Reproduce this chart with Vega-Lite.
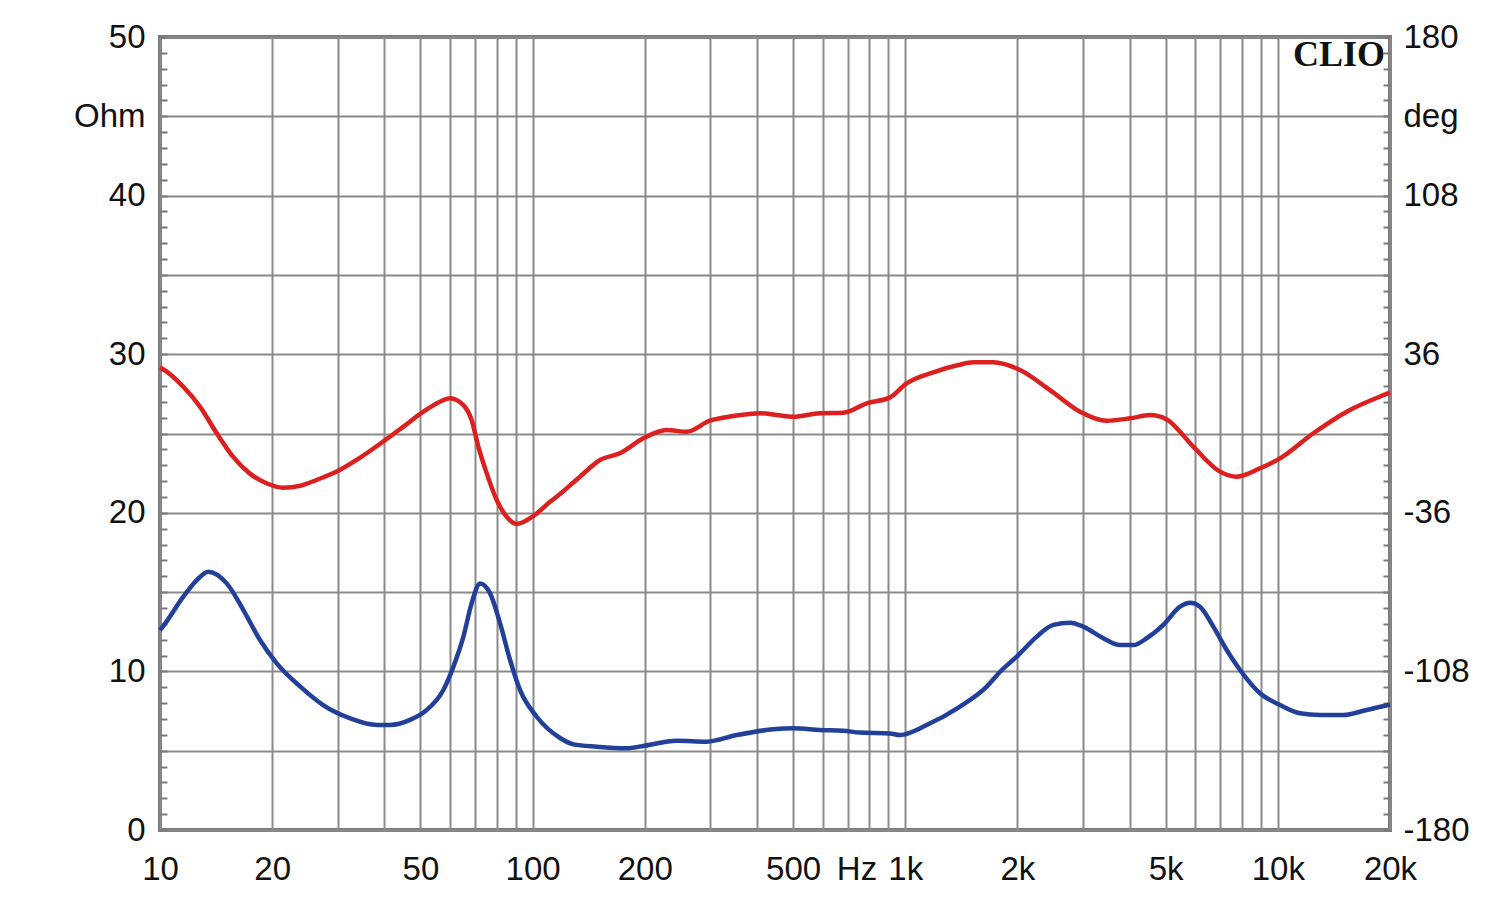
{
  "$schema": "https://vega.github.io/schema/vega-lite/v6.json",
  "width": 1230,
  "height": 793,
  "autosize": {"type": "none"},
  "padding": {"left": 160, "top": 37, "right": 110, "bottom": 75},
  "background": "white",
  "config": {
    "view": {"stroke": "#7a7a7a", "strokeWidth": 4},
    "axis": {
      "labelFont": "Liberation Sans",
      "labelFontSize": 33,
      "labelColor": "#111111",
      "domain": false,
      "labelFlush": false,
      "labelOverlap": false,
      "labelBound": false,
      "gridColor": "#8a8a8a",
      "gridWidth": 2,
      "title": null
    }
  },
  "datasets": {
    "imp": [
      {"f": 10, "ohm": 12.6}, {"f": 10.1, "ohm": 12.72}, {"f": 11.55, "ohm": 14.71}, {"f": 12.55, "ohm": 15.76},
      {"f": 13.48, "ohm": 16.29}, {"f": 15.1, "ohm": 15.55}, {"f": 16.74, "ohm": 13.87}, {"f": 18.55, "ohm": 11.98},
      {"f": 20.57, "ohm": 10.51}, {"f": 23.8, "ohm": 9.04}, {"f": 27.4, "ohm": 7.88}, {"f": 32.4, "ohm": 7.04},
      {"f": 38.2, "ohm": 6.62}, {"f": 41.4, "ohm": 6.62}, {"f": 46.9, "ohm": 6.94}, {"f": 52, "ohm": 7.57},
      {"f": 57.6, "ohm": 8.83}, {"f": 61.3, "ohm": 10.3}, {"f": 65.2, "ohm": 12.19}, {"f": 68.6, "ohm": 14.29},
      {"f": 72.3, "ohm": 15.55}, {"f": 76.9, "ohm": 14.92}, {"f": 81.8, "ohm": 13.03}, {"f": 87, "ohm": 10.72},
      {"f": 92.5, "ohm": 8.83}, {"f": 102.6, "ohm": 7.14}, {"f": 118.5, "ohm": 5.8}, {"f": 128.6, "ohm": 5.4},
      {"f": 148.6, "ohm": 5.25}, {"f": 178.9, "ohm": 5.15}, {"f": 198.2, "ohm": 5.3}, {"f": 243.6, "ohm": 5.63},
      {"f": 293.3, "ohm": 5.57}, {"f": 353, "ohm": 5.99}, {"f": 442.6, "ohm": 6.35}, {"f": 500.8, "ohm": 6.41},
      {"f": 590.7, "ohm": 6.31}, {"f": 682, "ohm": 6.26}, {"f": 756, "ohm": 6.14}, {"f": 910, "ohm": 6.09},
      {"f": 968, "ohm": 5.99}, {"f": 1142, "ohm": 6.62}, {"f": 1403, "ohm": 7.78}, {"f": 1655, "ohm": 9.04},
      {"f": 1797, "ohm": 9.98}, {"f": 2012, "ohm": 11.03}, {"f": 2075, "ohm": 11.35}, {"f": 2254, "ohm": 12.19},
      {"f": 2497, "ohm": 12.93}, {"f": 2769, "ohm": 13.07}, {"f": 3006, "ohm": 12.82}, {"f": 3401, "ohm": 12.09},
      {"f": 3771, "ohm": 11.66}, {"f": 4094, "ohm": 11.66}, {"f": 4447, "ohm": 12.09}, {"f": 4928, "ohm": 12.93},
      {"f": 5464, "ohm": 14.08}, {"f": 5812, "ohm": 14.33}, {"f": 6182, "ohm": 14.08}, {"f": 6712, "ohm": 12.82},
      {"f": 7291, "ohm": 11.35}, {"f": 7917, "ohm": 10.09}, {"f": 8958, "ohm": 8.62}, {"f": 10137, "ohm": 7.88},
      {"f": 11469, "ohm": 7.36}, {"f": 12977, "ohm": 7.25}, {"f": 14988, "ohm": 7.25}, {"f": 17320, "ohm": 7.57},
      {"f": 19803, "ohm": 7.88}, {"f": 20000, "ohm": 7.9}
    ],
    "phase": [
      {"f": 10, "deg": 30}, {"f": 10.1, "deg": 29.6}, {"f": 11.55, "deg": 21.2}, {"f": 12.8, "deg": 12.2},
      {"f": 14.2, "deg": 0.1}, {"f": 15.7, "deg": -10.5}, {"f": 17.4, "deg": -18.1}, {"f": 19.3, "deg": -22.6},
      {"f": 21.4, "deg": -24.6}, {"f": 23.8, "deg": -23.7}, {"f": 26.3, "deg": -21.1}, {"f": 29.8, "deg": -17.3},
      {"f": 33.7, "deg": -12}, {"f": 39.7, "deg": -3.7}, {"f": 45, "deg": 3.1}, {"f": 50.9, "deg": 9.9},
      {"f": 56.4, "deg": 14.4}, {"f": 60, "deg": 16}, {"f": 65.2, "deg": 12.9}, {"f": 68.6, "deg": 6.1},
      {"f": 71.5, "deg": -6}, {"f": 75.3, "deg": -18.1}, {"f": 80.1, "deg": -30.2}, {"f": 85.2, "deg": -37.8},
      {"f": 90.6, "deg": -41.1}, {"f": 100.4, "deg": -37.5}, {"f": 111.4, "deg": -31}, {"f": 116, "deg": -28.7},
      {"f": 134, "deg": -19.6}, {"f": 151.7, "deg": -12}, {"f": 171.6, "deg": -9}, {"f": 198.2, "deg": -2.2},
      {"f": 229, "deg": 1.6}, {"f": 259, "deg": 0.8}, {"f": 299, "deg": 5.8}, {"f": 345.6, "deg": 7.9},
      {"f": 407.7, "deg": 9.2}, {"f": 452, "deg": 8.4}, {"f": 500.8, "deg": 7.6}, {"f": 590.7, "deg": 9.2},
      {"f": 682, "deg": 9.4}, {"f": 788, "deg": 13.7}, {"f": 910, "deg": 16.4}, {"f": 1009, "deg": 22.8},
      {"f": 1190, "deg": 27.8}, {"f": 1389, "deg": 31.1}, {"f": 1523, "deg": 32.3}, {"f": 1723, "deg": 32.3},
      {"f": 2033, "deg": 28.8}, {"f": 2447, "deg": 19.7}, {"f": 2945, "deg": 9.9}, {"f": 3473, "deg": 5.8},
      {"f": 4012, "deg": 6.9}, {"f": 4540, "deg": 8.4}, {"f": 5032, "deg": 6.4}, {"f": 5932, "deg": -6},
      {"f": 6995, "deg": -17.3}, {"f": 7756, "deg": -19.6}, {"f": 8958, "deg": -15.8}, {"f": 10137, "deg": -11.3},
      {"f": 12454, "deg": 0.1}, {"f": 15306, "deg": 9.9}, {"f": 19803, "deg": 18.3}, {"f": 20000, "deg": 18.6}
    ],
    "brand": [{"f": 19400, "ohm": 48.85, "label": "CLIO"}]
  },
  "layer": [
    {
      "data": {"name": "imp"},
      "mark": {"type": "line", "color": "#22409a", "strokeWidth": 4.5, "interpolate": "monotone"},
      "encoding": {
        "x": {
          "field": "f", "type": "quantitative",
          "scale": {"type": "log", "domain": [10, 20000], "nice": false},
          "axis": {
            "orient": "bottom",
            "values": [10, 20, 30, 40, 50, 60, 70, 80, 90, 100, 200, 300, 400, 500, 600, 700, 740, 800, 900, 1000, 2000, 3000, 4000, 5000, 6000, 7000, 8000, 9000, 10000, 20000],
            "ticks": false,
            "labelPadding": 23,
            "gridOpacity": {"condition": {"test": "datum.value == 740", "value": 0}, "value": 1},
            "labelExpr": "datum.value==10?'10':datum.value==20?'20':datum.value==50?'50':datum.value==100?'100':datum.value==200?'200':datum.value==500?'500':datum.value==740?'Hz':datum.value==1000?'1k':datum.value==2000?'2k':datum.value==5000?'5k':datum.value==10000?'10k':datum.value==20000?'20k':''"
          }
        },
        "y": {
          "field": "ohm", "type": "quantitative",
          "scale": {"domain": [0, 50], "nice": false, "zero": false},
          "axis": {
            "orient": "left",
            "values": [0,1,2,3,4,5,6,7,8,9,10,11,12,13,14,15,16,17,18,19,20,21,22,23,24,25,26,27,28,29,30,31,32,33,34,35,36,37,38,39,40,41,42,43,44,45,46,47,48,49,50],
            "tickSize": -7,
            "tickColor": "#7a7a7a",
            "tickWidth": 2,
            "labelPadding": 22,
            "gridOpacity": {"condition": {"test": "datum.value % 5 == 0", "value": 1}, "value": 0},
            "labelExpr": "datum.value==45?'Ohm':(datum.value%10==0?''+datum.value:'')"
          }
        }
      }
    },
    {
      "data": {"name": "phase"},
      "mark": {"type": "line", "color": "#dc2020", "strokeWidth": 4.5, "interpolate": "monotone"},
      "encoding": {
        "x": {"field": "f", "type": "quantitative"},
        "y": {
          "field": "deg", "type": "quantitative",
          "scale": {"domain": [-180, 180], "nice": false, "zero": false},
          "axis": {
            "orient": "right",
            "values": [-180,-172.8,-165.6,-158.4,-151.2,-144,-136.8,-129.6,-122.4,-115.2,-108,-100.8,-93.6,-86.4,-79.2,-72,-64.8,-57.6,-50.4,-43.2,-36,-28.8,-21.6,-14.4,-7.2,0,7.2,14.4,21.6,28.8,36,43.2,50.4,57.6,64.8,72,79.2,86.4,93.6,100.8,108,115.2,122.4,129.6,136.8,144,151.2,158.4,165.6,172.8,180],
            "tickSize": -7,
            "tickColor": "#7a7a7a",
            "tickWidth": 2,
            "labelPadding": 20,
            "grid": false,
            "labelExpr": "datum.value==144?'deg':(indexof([-180,-108,-36,36,108,180], datum.value)>=0?''+datum.value:'')"
          }
        }
      }
    },
    {
      "data": {"name": "brand"},
      "mark": {"type": "text", "font": "Liberation Serif", "fontWeight": "bold", "fontSize": 36, "align": "right", "baseline": "middle", "color": "#111111"},
      "encoding": {
        "x": {"field": "f", "type": "quantitative"},
        "y": {"field": "ohm", "type": "quantitative", "scale": {"domain": [0, 50], "nice": false, "zero": false}, "axis": null},
        "text": {"field": "label"}
      }
    }
  ],
  "resolve": {"scale": {"y": "independent"}}
}
